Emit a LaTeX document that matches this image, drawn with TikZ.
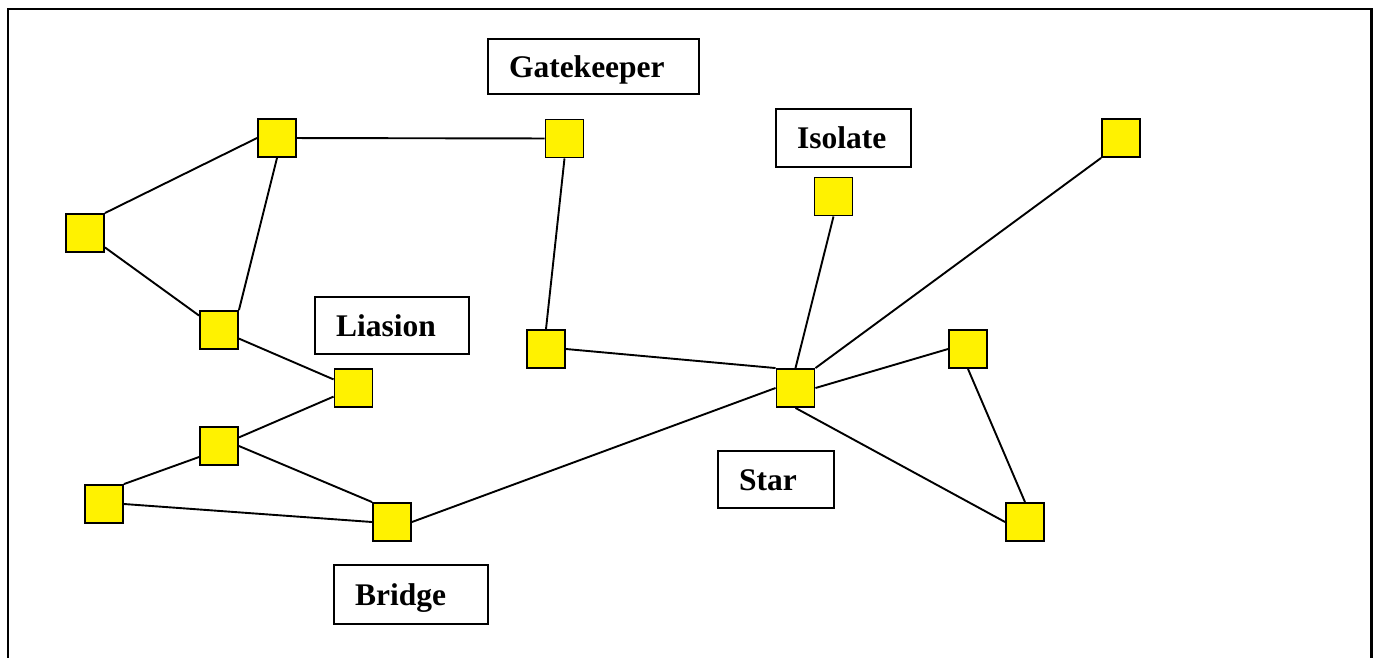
\documentclass[tikz,border=0pt]{standalone}
\usepackage{fontspec}
\setmainfont{Liberation Serif}
\begin{document}
\begin{tikzpicture}[x=1pt,y=-1pt,
  actor/.style={draw=black, fill=yellow, line width=1.9pt, minimum size=38pt, inner sep=0pt},
  tag/.style={draw=black, fill=white, line width=1.9pt, inner xsep=21pt, inner ysep=0pt,
    align=left, text height=21pt, text depth=0pt,
    font=\bfseries\fontsize{31.5}{36}\selectfont},
  tie/.style={line width=1.9pt, black}]
\useasboundingbox (0,0) rectangle (1378,657);
\clip (0,0) rectangle (1378,657);
\draw[line width=2.4pt] (8,9) rectangle (1371.5,680);
% actors
\node[actor] (a) at (277,138) {};
\node[actor] (b) at (564.5,138.5) {};
\node[actor] (c) at (85,233) {};
\node[actor] (d) at (219,330) {};
\node[actor] (e) at (353.5,388) {};
\node[actor] (f) at (219,446) {};
\node[actor] (g) at (104,504) {};
\node[actor] (h) at (392,522) {};
\node[actor] (i) at (546,349) {};
\node[actor] (s) at (795.5,388) {};
\node[actor] (iso) at (833.5,196.5) {};
\node[actor] (tr) at (1121,138) {};
\node[actor] (j) at (968,349) {};
\node[actor] (k) at (1025,522) {};
% ties
\draw[tie] (a) -- (b);
\draw[tie] (a.west) -- (c.north east);
\draw[tie] (a.south) -- (d.north east);
\draw[tie] (c) -- (d);
\draw[tie] (b.south) -- (i.north);
\draw[tie] (d) -- (e);
\draw[tie] (e) -- (f);
\draw[tie] (g.north east) -- ([yshift=-11pt]f.west);
\draw[tie] (f.east) -- (h.north west);
\draw[tie] (g.east) -- (h.west);
\draw[tie] (h.east) -- (s.west);
\draw[tie] (i.east) -- (s.north west);
\draw[tie] (iso.south) -- (s.north);
\draw[tie] (tr.south west) -- (s.north east);
\draw[tie] (s.east) -- (j.west);
\draw[tie] (s.south) -- (k.west);
\draw[tie] (j.south) -- (k.north);
% labels
\node[tag, text width=169pt, minimum height=55pt] (gk) at (593.5,66.5) {Gatekeeper};
\node[tag, text width=93pt, minimum height=58pt] (il) at (843.5,138) {Isolate};
\node[tag, text width=112pt, minimum height=57pt] (li) at (392,325.5) {Liasion};
\node[tag, text width=112pt, minimum height=59pt] (br) at (411,594.5) {Bridge};
\node[tag, text width=74pt, minimum height=57pt] (st) at (776,479.5) {Star};
\end{tikzpicture}
\end{document}
